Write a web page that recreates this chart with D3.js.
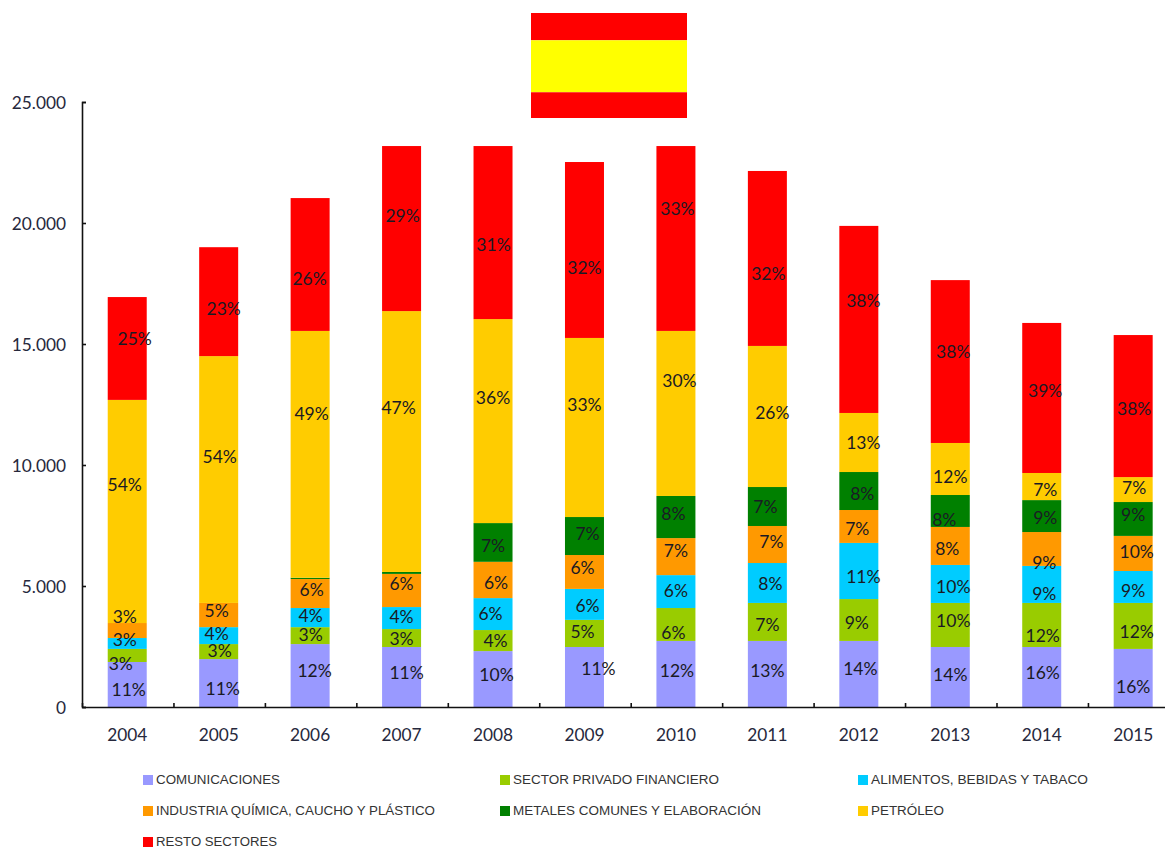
<!DOCTYPE html>
<html>
<head>
<meta charset="utf-8">
<script src="https://cdn.jsdelivr.net/npm/d3@7/dist/d3.min.js"></script>
<style>
html,body{margin:0;padding:0;background:#fff;overflow:hidden}
svg{display:block}
.axis text{font-family:Lato,sans-serif;font-size:17.3px;fill:#26283c}
.axis path,.axis line{stroke:#111;stroke-width:1.6px}
.pct{font-family:Lato,sans-serif;font-size:17.5px;fill:#1a1a24;text-anchor:middle}
.leg{font-family:"Liberation Sans",Arial,sans-serif;font-size:12px;fill:#333}
</style>
</head>
<body>
<svg id="chart" width="1165" height="847"></svg>
<script>
const years = ["2004","2005","2006","2007","2008","2009","2010","2011","2012","2013","2014","2015"];
const seriesNames = ["COMUNICACIONES","SECTOR PRIVADO FINANCIERO","ALIMENTOS, BEBIDAS Y TABACO","INDUSTRIA QUÍMICA, CAUCHO Y PLÁSTICO","METALES COMUNES Y ELABORACIÓN","PETRÓLEO","RESTO SECTORES"];
const seriesColors = ["#9999FF","#99CC00","#00CCFF","#FF9900","#008000","#FFCC00","#FF0000"];

const comunicaciones = [1860,1980,2600,2480,2310,2480,2730,2730,2730,2480,2480,2400];
const financiero     = [540,620,700,740,870,1120,1360,1570,1730,1820,1820,1900];
const alimentos      = [450,700,790,910,1320,1280,1360,1650,2320,1570,1530,1320];
const quimica        = [620,1000,1200,1370,1500,1400,1530,1530,1360,1570,1400,1450];
const metales        = [0,0,50,80,1600,1570,1740,1610,1570,1320,1320,1400];
const petroleo       = [9220,10200,10200,10780,8430,7400,6820,5830,2440,2150,1120,1030];
const resto          = [4250,4500,5490,6820,7150,7270,7640,7230,7730,6730,6200,5870];
const seriesValues = [comunicaciones,financiero,alimentos,quimica,metales,petroleo,resto];

const pctComunicaciones = [11,11,12,11,10,11,12,13,14,14,16,16];
const pctFinanciero     = [3,3,3,3,4,5,6,7,9,10,12,12];
const pctAlimentos      = [3,4,4,4,6,6,6,8,11,10,9,9];
const pctQuimica        = [3,5,6,6,6,6,7,7,7,8,9,10];
const pctMetales        = [null,null,null,null,7,7,8,7,8,8,9,9];
const pctPetroleo       = [54,54,49,47,36,33,30,26,13,12,7,7];
const pctResto          = [25,23,26,29,31,32,33,32,38,38,39,38];
const seriesPct = [pctComunicaciones,pctFinanciero,pctAlimentos,pctQuimica,pctMetales,pctPetroleo,pctResto];

const yTicks = [0,5000,10000,15000,20000,25000];

/* hand placement of the percentage labels in the original, as pixel nudges from each segment's centre */
const labelDx = [
 [1.5,4,4.5,5,3.5,14,1,0,1.5,0,1,0],
 [-6.5,1,.5,0,2.5,-2,-2.5,0,-2,3,1,3.5],
 [-2.5,-2,.5,0,-2.5,3,0,3,4.5,3,2.5,0],
 [-2.5,-2,1.5,0,3,-2,0,4,-1.5,-3,2.5,3.5],
 [0,0,0,0,0,3,-2.5,-2,3.5,-6,3.5,0],
 [-2.5,1,1.5,-3,0,0,3.5,5,4.5,0,3.5,1],
 [7.5,5,-.5,1,.5,0,1.5,1,4.5,3,3.5,1]];
const labelDy = [
 [4.5,5,-5.5,-5,-5,-9,-4,-4,-6,-3,-5,8],
 [7.5,-1.5,-1.5,0,0,-2,7.5,2,2,-5,10,5],
 [-4.5,-2,-2.5,-2,-1,1,-1,0,5,2,8.5,3],
 [-14.5,-5,-4.5,-7.5,2,-5,-6,-3.5,1.5,2,13,-2],
 [0,0,0,0,2.5,-3,-4,0,2,8,1,-5],
 [-27.5,-23.5,-41.5,-34.5,-24,-23.5,-33.5,-4.5,0,7,2.5,-2.5],
 [-10,6.5,13.5,-13.5,11.5,17,-30,14.5,-19.5,-10.5,-8,2]];

const svg = d3.select("#chart");
const fmt = d3.formatLocale({decimal:",",thousands:".",grouping:[3],currency:["","€"]}).format(",d");

const step = 91.45, left = 82, barW = 39;
const x = d3.scaleBand().domain(years).range([left, left + step * years.length]);
const y = d3.scaleLinear().domain([0,25000]).range([707,102]);
const edges = d3.scalePoint().domain(d3.range(years.length + 1)).range(x.range());
const barLeft = yr => x(yr) + (x.bandwidth() - barW) / 2 - 0.5;

/* flag */
const flagBands = [["#FF0000",0,.26],["#FFFF00",.26,.755],["#FF0000",.755,1]];
const flag = d3.scaleLinear().domain([0,1]).range([13,118]);
svg.append("g").selectAll("rect").data(flagBands).join("rect")
  .attr("x",531).attr("width",156)
  .attr("y",d=>flag(d[1])).attr("height",d=>flag(d[2])-flag(d[1]))
  .attr("fill",d=>d[0]);

/* stacked bars */
const rows = years.map((yr,i)=>{const o={year:yr};seriesNames.forEach((n,s)=>o[n]=seriesValues[s][i]);return o;});
const stacked = d3.stack().keys(seriesNames)(rows);

svg.append("g").selectAll("g").data(stacked).join("g")
  .attr("fill",(d,i)=>seriesColors[i])
  .selectAll("rect").data(d=>d).join("rect")
  .attr("x",d=>barLeft(d.data.year)).attr("width",barW)
  .attr("y",d=>y(d[1])).attr("height",d=>y(d[0])-y(d[1]));

/* axes */
const yAxis = svg.append("g").attr("class","axis").attr("transform",`translate(${left},0)`)
  .call(d3.axisLeft(y).tickValues(yTicks).tickFormat(fmt).tickSize(-4).tickSizeOuter(-4).tickPadding(16));
yAxis.selectAll("text").attr("transform","translate(0,1)");
svg.append("g").attr("class","axis").attr("transform","translate(0,707)")
  .call(d3.axisBottom(edges).tickFormat("").tickSize(-4).tickSizeOuter(0));
const yrAxis = svg.append("g").attr("class","axis").attr("transform","translate(-0.5,707)")
  .call(d3.axisBottom(x).tickSize(0).tickPadding(22));
yrAxis.select(".domain").remove();

/* percentage labels */
stacked.forEach((layer,s)=>{
  svg.append("g").selectAll("text").data(layer.filter((d,i)=>seriesPct[s][i]!==null)).join("text")
    .attr("class","pct")
    .attr("x",d=>barLeft(d.data.year)+barW/2+labelDx[s][years.indexOf(d.data.year)])
    .attr("y",d=>(y(d[0])+y(d[1]))/2+labelDy[s][years.indexOf(d.data.year)]+0.5)
    .attr("dy",".36em")
    .text(d=>seriesPct[s][years.indexOf(d.data.year)]+"%");
});

/* legend */
const legX = [143,500,858], legRow = [780,811,842];
const legLen = [124,206,217,279,248,73,121];
const leg = svg.append("g").selectAll("g").data(seriesNames).join("g")
  .attr("transform",(d,i)=>`translate(${legX[i%3]},${legRow[Math.floor(i/3)]})`);
leg.append("rect").attr("x",0).attr("y",-5).attr("width",10).attr("height",10)
  .attr("fill",(d,i)=>seriesColors[i]);
leg.append("text").attr("class","leg").attr("x",13).attr("dy",".36em")
  .attr("textLength",(d,i)=>legLen[i]).attr("lengthAdjust","spacingAndGlyphs")
  .text(d=>d);
</script>
</body>
</html>
